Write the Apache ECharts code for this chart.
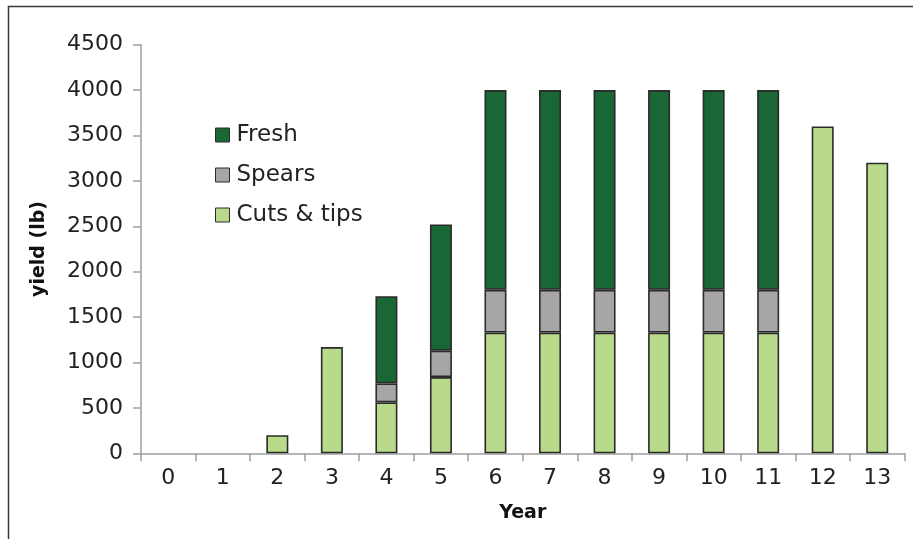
<!DOCTYPE html>
<html>
<head>
<meta charset="utf-8">
<script src="https://cdn.jsdelivr.net/npm/echarts@6/dist/echarts.min.js"></script>
<style>
html,body{margin:0;padding:0;background:#fff;}
#c{width:913px;height:539px;}
</style>
</head>
<body>
<div id="c"></div>
<script>
var years = ['0','1','2','3','4','5','6','7','8','9','10','11','12','13'];
var cutsTips = [null,null,200,1170,560,840,1330,1330,1330,1330,1330,1330,3600,3200];
var spears = [null,null,null,null,210,290,470,470,470,470,470,470,null,null];
var fresh = [null,null,null,null,960,1390,2200,2200,2200,2200,2200,2200,null,null];
var yTicks = {min:0, max:4500, interval:500};

var FONT = '"DejaVu Sans", sans-serif';
var chart = echarts.init(document.getElementById('c'), null, {renderer:'canvas'});
var border = {borderColor:'#2b2b2b', borderWidth:1.6};
function mk(name, data, color){
  return {
    name:name, type:'bar', stack:'total', data:data, barWidth:22,
    itemStyle:Object.assign({color:color}, border),
    emphasis:{disabled:true}
  };
}
chart.setOption({
  animation:false,
  backgroundColor:'#fff',
  textStyle:{fontFamily:FONT},
  graphic:[{
    type:'rect', left:6, top:4, silent:true,
    shape:{width:1200, height:1200},
    style:{fill:'none', stroke:'#3a3a3a', lineWidth:1.5}
  }],
  grid:{left:141, right:8.5, top:44.7, bottom:85.7, containLabel:false},
  legend:{
    orient:'vertical', left:210, top:118.5,
    icon:'rect',
    itemWidth:14, itemHeight:14, itemGap:17,
    data:['Fresh','Spears','Cuts & tips'],
    itemStyle:{borderColor:'#2b2b2b', borderWidth:1},
    textStyle:{fontFamily:FONT, fontSize:23, color:'#222', padding:[0,0,0,2]}
  },
  xAxis:{
    type:'category', data:years,
    name:'Year', nameLocation:'middle', nameGap:50,
    nameTextStyle:{fontFamily:FONT, fontSize:19, fontWeight:'bold', color:'#111'},
    axisLine:{lineStyle:{color:'#9e9e9e', width:1.5}},
    axisTick:{show:true, length:8, alignWithLabel:false, interval:0, lineStyle:{color:'#9e9e9e', width:1.5}},
    axisLabel:{fontFamily:FONT, fontSize:22, color:'#222', margin:14, interval:0}
  },
  yAxis:{
    type:'value', min:yTicks.min, max:yTicks.max, interval:yTicks.interval,
    name:'yield (lb)', nameLocation:'middle', nameGap:92, nameRotate:90,
    nameTextStyle:{fontFamily:FONT, fontSize:19, fontWeight:'bold', color:'#111'},
    axisLine:{show:true, lineStyle:{color:'#9e9e9e', width:1.5}},
    axisTick:{show:true, length:8, lineStyle:{color:'#9e9e9e', width:1.5}},
    splitLine:{show:false},
    axisLabel:{fontFamily:FONT, fontSize:22, color:'#222', margin:18,
      formatter:function(v){return String(v);}}
  },
  series:[
    mk('Cuts & tips', cutsTips, '#b9da8a'),
    mk('Spears', spears, '#a6a6a6'),
    mk('Fresh', fresh, '#196734')
  ]
});
</script>
</body>
</html>
